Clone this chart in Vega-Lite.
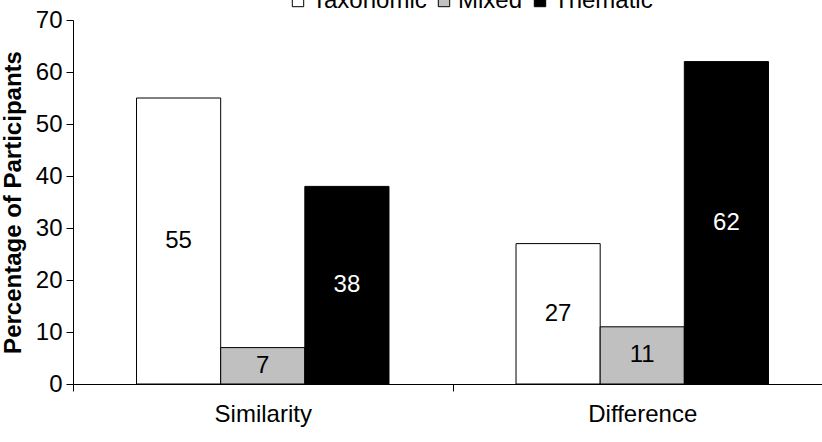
{
  "$schema": "https://vega.github.io/schema/vega-lite/v6.json",
  "width": 749,
  "height": 364,
  "autosize": "none",
  "padding": {"left": 73, "top": 20, "right": 0, "bottom": 58},
  "config": {
    "view": {"stroke": null},
    "font": "Liberation Sans",
    "axis": {"domainColor": "black", "tickColor": "black", "labelColor": "black", "titleColor": "black", "grid": false, "labelFont": "Liberation Sans", "titleFont": "Liberation Sans"}
  },
  "data": {
    "values": [
      {"task": "Similarity", "type": "Taxonomic", "pct": 55},
      {"task": "Similarity", "type": "Mixed", "pct": 7},
      {"task": "Similarity", "type": "Thematic", "pct": 38},
      {"task": "Difference", "type": "Taxonomic", "pct": 27},
      {"task": "Difference", "type": "Mixed", "pct": 11},
      {"task": "Difference", "type": "Thematic", "pct": 62}
    ]
  },
  "encoding": {
    "x": {
      "field": "task",
      "type": "nominal",
      "sort": ["Similarity", "Difference"],
      "scale": {"range": [0, 759], "paddingInner": 0, "paddingOuter": 0},
      "axis": {"title": null, "labelAngle": 0, "tickBand": "extent", "tickSize": 7, "labelPadding": 11, "labelFontSize": 24, "domainWidth": 1}
    },
    "xOffset": {
      "field": "type",
      "type": "nominal",
      "sort": ["Taxonomic", "Mixed", "Thematic"],
      "scale": {"paddingOuter": 0.755, "paddingInner": 0}
    }
  },
  "layer": [
    {
      "mark": {"type": "bar", "stroke": "black", "strokeWidth": 1},
      "encoding": {
        "y": {
          "field": "pct",
          "type": "quantitative",
          "scale": {"domain": [0, 70]},
          "axis": {"title": "Percentage of Participants", "titleFontSize": 24, "titleFontWeight": "bold", "titlePadding": 10, "values": [0, 10, 20, 30, 40, 50, 60, 70], "tickSize": 7, "labelPadding": 4, "labelFontSize": 24}
        },
        "fill": {
          "field": "type",
          "type": "nominal",
          "sort": ["Taxonomic", "Mixed", "Thematic"],
          "scale": {"domain": ["Taxonomic", "Mixed", "Thematic"], "range": ["white", "#c0c0c0", "black"]},
          "legend": {"orient": "none", "legendX": 213, "legendY": -31, "direction": "horizontal", "title": null, "symbolType": "square", "symbolSize": 130, "symbolStrokeColor": "black", "symbolStrokeWidth": 1, "labelFontSize": 24, "labelColor": "black", "columnPadding": 5, "labelOffset": 2, "padding": 0, "gridAlign": "none"}
        }
      }
    },
    {
      "mark": {"type": "text", "fontSize": 24, "baseline": "middle", "align": "center"},
      "encoding": {
        "y": {"field": "pct", "type": "quantitative", "scale": {"domain": [0, 140]}, "axis": null},
        "text": {"field": "pct", "type": "quantitative"},
        "color": {"condition": {"test": "datum.type === 'Thematic'", "value": "white"}, "value": "black"}
      }
    }
  ],
  "resolve": {"scale": {"y": "independent"}}
}
